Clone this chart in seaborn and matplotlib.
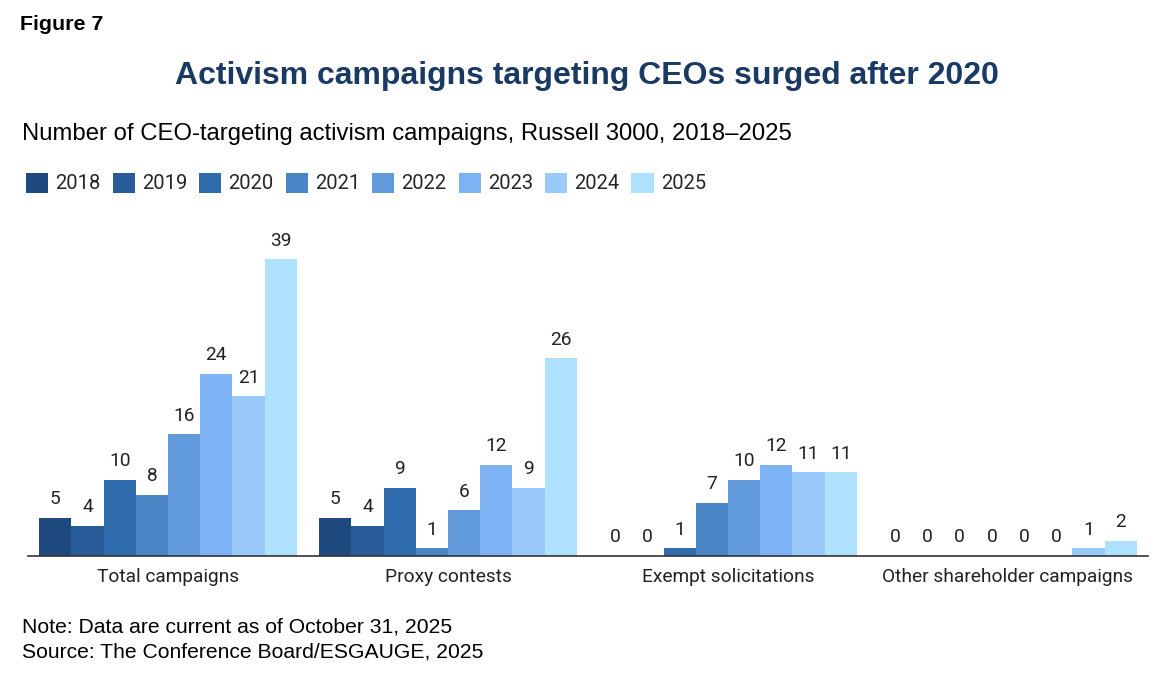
import matplotlib
matplotlib.use("Agg")
import matplotlib.pyplot as plt
import seaborn as sns
import pandas as pd

categories = ["Total campaigns", "Proxy contests", "Exempt solicitations", "Other shareholder campaigns"]
years = ["2018", "2019", "2020", "2021", "2022", "2023", "2024", "2025"]
total_campaigns = [5, 4, 10, 8, 16, 24, 21, 39]
proxy_contests = [5, 4, 9, 1, 6, 12, 9, 26]
exempt_solicitations = [0, 0, 1, 7, 10, 12, 11, 11]
other_campaigns = [0, 0, 0, 0, 0, 0, 1, 2]
colors = ["#1f4a80", "#285c98", "#2e6cae", "#4a86c6", "#629bdc", "#7db3f5", "#99caf9", "#ade1fd"]

series = [total_campaigns, proxy_contests, exempt_solicitations, other_campaigns]
rows = []
for cat, vals in zip(categories, series):
    for y, v in zip(years, vals):
        rows.append({"category": cat, "year": y, "value": v})
df = pd.DataFrame(rows)

sns.set_theme(style="white")
plt.rcParams["font.family"] = ["Roboto", "DejaVu Sans"]

fig = plt.figure(figsize=(11.64, 6.78), dpi=100)
ax = fig.add_axes([28 / 1164, 1 - 556 / 678, 1120 / 1164, 330 / 678])

sns.barplot(data=df, x="category", y="value", hue="year", order=categories,
            hue_order=years, palette=colors, width=0.92, saturation=1,
            ax=ax, legend=True, linewidth=0)

for cont in ax.containers:
    ax.bar_label(cont, padding=7, fontsize=13.75, color="#222222", family="Roboto")

ax.set_ylim(0, 43.4)
ax.set_xlim(-0.5, 3.5)
ax.set_xlabel("")
ax.set_ylabel("")
ax.set_yticks([])
for s in ["top", "right", "left"]:
    ax.spines[s].set_visible(False)
ax.spines["bottom"].set_color("#333333")
ax.spines["bottom"].set_linewidth(1.2)
ax.tick_params(axis="x", length=0, pad=9, labelsize=13.75, labelcolor="#222222")

handles, labels = ax.get_legend_handles_labels()
ax.get_legend().remove()
fig.legend(handles, labels, loc="center left", bbox_to_anchor=(26 / 1164, 1 - 183 / 678),
           ncol=8, frameon=False, fontsize=14.5, handlelength=1.1, handleheight=1.15,
           handletextpad=0.35, columnspacing=0.6, borderaxespad=0, borderpad=0)

fig.text(20 / 1164, 1 - 25 / 678, "Figure 7", fontsize=15.4, fontweight="bold",
         family="Liberation Sans", va="center", ha="left", color="black")
fig.text(587 / 1164, 1 - 76 / 678, "Activism campaigns targeting CEOs surged after 2020",
         fontsize=23, fontweight="bold", family="Liberation Sans", va="center",
         ha="center", color="#1a3a63")
fig.text(22 / 1164, 1 - 134 / 678,
         "Number of CEO-targeting activism campaigns, Russell 3000, 2018\u20132025",
         fontsize=17.2, family="Liberation Sans", va="center", ha="left", color="black")
fig.text(22 / 1164, 1 - 627 / 678, "Note: Data are current as of October 31, 2025",
         fontsize=15.2, family="Liberation Sans", va="center", ha="left", color="black")
fig.text(22 / 1164, 1 - 652 / 678, "Source: The Conference Board/ESGAUGE, 2025",
         fontsize=15.2, family="Liberation Sans", va="center", ha="left", color="black")

fig.savefig("out.png", dpi=100, facecolor="white")
